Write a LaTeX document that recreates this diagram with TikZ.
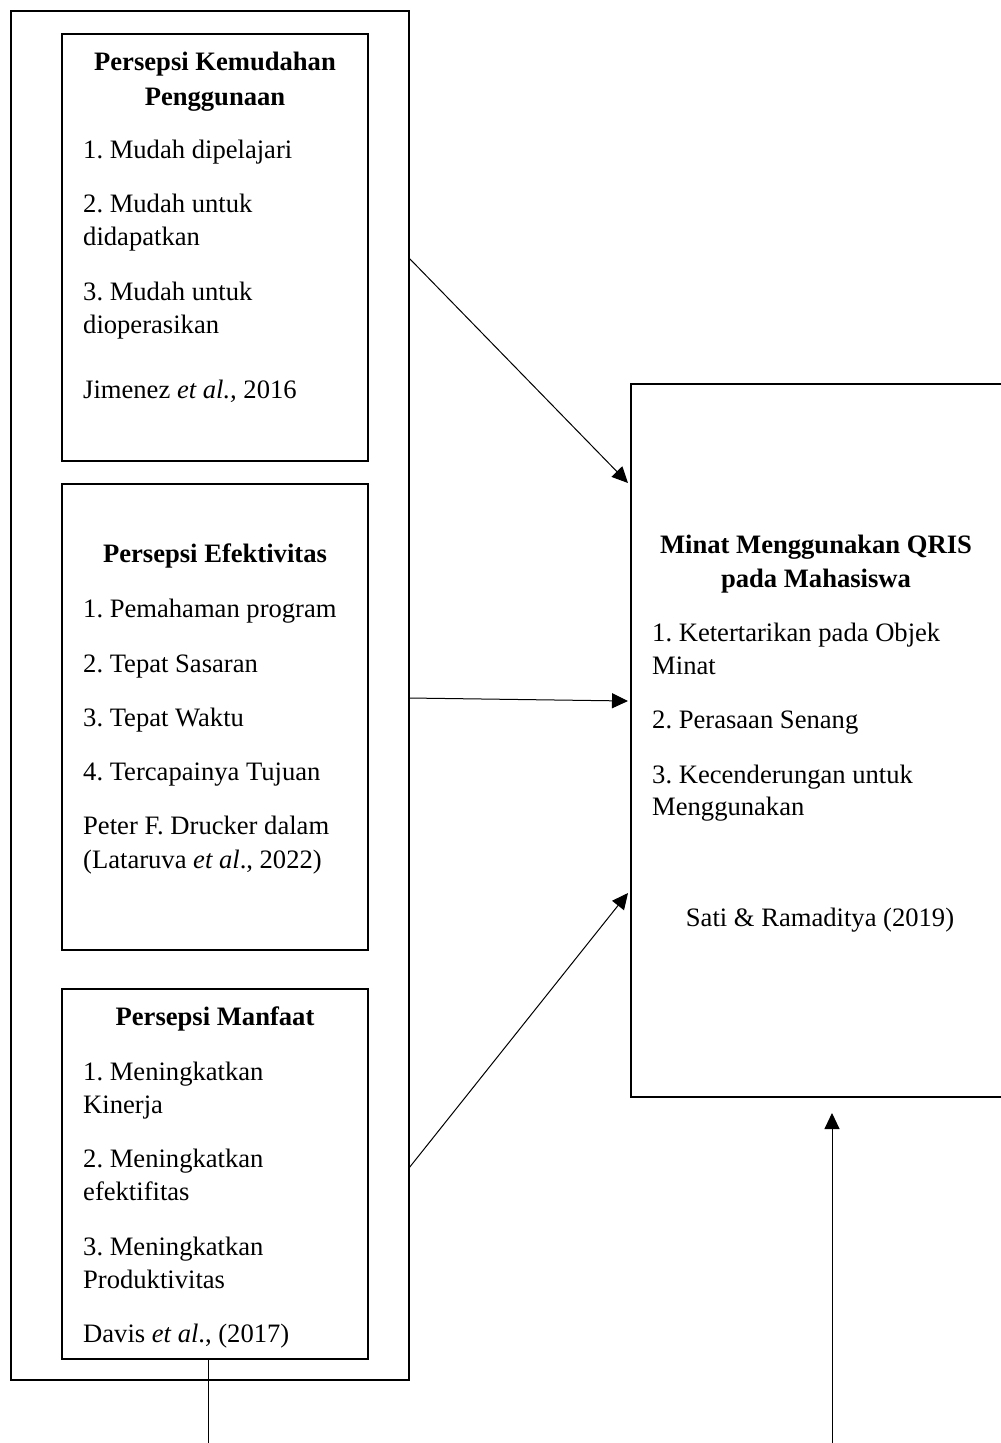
\documentclass[tikz,border=0pt]{standalone}
\usepackage{fontspec}
\setmainfont{Liberation Serif}
\usetikzlibrary{arrows.meta}
\frenchspacing
\begin{document}
\begin{tikzpicture}[x=1pt,y=-1pt,
  box/.style={draw, line width=2pt, rectangle, inner sep=0pt},
  txt/.style={anchor=base west, inner sep=0pt, font=\fontsize{26.6}{34}\selectfont},
  ctxt/.style={anchor=base, inner sep=0pt, font=\fontsize{26.6}{34}\selectfont},
  ttl/.style={anchor=base, inner sep=0pt, font=\fontsize{26.6}{34}\selectfont\bfseries},
  conn/.style={line width=1pt, -{Triangle[length=16pt,width=15pt]}},
  plain/.style={line width=1pt},
]
\useasboundingbox (0,0) rectangle (1001,1443);
\clip (0,0) rectangle (1001,1443);

% boxes
\node[box, minimum width=398pt, minimum height=1369pt] (outer) at (210,695.5) {};
\node[box, minimum width=306pt, minimum height=427pt] (b1) at (215,247.5) {};
\node[box, minimum width=306pt, minimum height=466pt] (b2) at (215,717) {};
\node[box, minimum width=306pt, minimum height=370pt] (b3) at (215,1174) {};
\node[box, minimum width=374pt, minimum height=713pt] (rb) at (818,740.5) {};

% box 1 text
\node[ttl] (b1t1) at (215,70) {Persepsi Kemudahan};
\node[ttl] (b1t2) at (215,105) {Penggunaan};
\node[txt] (b1i1) at (83,158) {1. Mudah dipelajari};
\node[txt] (b1i2) at (83,212) {2. Mudah untuk};
\node[txt] (b1i2b) at (83,245) {didapatkan};
\node[txt] (b1i3) at (83,300) {3. Mudah untuk};
\node[txt] (b1i3b) at (83,333) {dioperasikan};
\node[txt] (b1r) at (83,398) {Jimenez \textit{et al.,} 2016};

% box 2 text
\node[ttl] (b2t1) at (215,562) {Persepsi Efektivitas};
\node[txt] (b2i1) at (83,617) {1. Pemahaman program};
\node[txt] (b2i2) at (83,672) {2. Tepat Sasaran};
\node[txt] (b2i3) at (83,726) {3. Tepat Waktu};
\node[txt] (b2i4) at (83,780) {4. Tercapainya Tujuan};
\node[txt] (b2r1) at (83,834) {Peter F. Drucker dalam};
\node[txt] (b2r2) at (83,868) {(Lataruva \textit{et al}., 2022)};

% box 3 text
\node[ttl] (b3t1) at (215,1025) {Persepsi Manfaat};
\node[txt] (b3i1) at (83,1080) {1. Meningkatkan};
\node[txt] (b3i1b) at (83,1113) {Kinerja};
\node[txt] (b3i2) at (83,1167) {2. Meningkatkan};
\node[txt] (b3i2b) at (83,1200) {efektifitas};
\node[txt] (b3i3) at (83,1255) {3. Meningkatkan};
\node[txt] (b3i3b) at (83,1288) {Produktivitas};
\node[txt] (b3r) at (83,1342) {Davis \textit{et al}., (2017)};

% right box text
\node[ttl] (rbt1) at (816,553) {Minat Menggunakan QRIS};
\node[ttl] (rbt2) at (816,587) {pada Mahasiswa};
\node[txt] (rbi1) at (652,641) {1. Ketertarikan pada Objek};
\node[txt] (rbi1b) at (652,674) {Minat};
\node[txt] (rbi2) at (652,728) {2. Perasaan Senang};
\node[txt] (rbi3) at (652,783) {3. Kecenderungan untuk};
\node[txt] (rbi3b) at (652,815) {Menggunakan};
\node[ctxt] (rbr) at (820,926) {Sati \& Ramaditya (2019)};

% connector endpoints
\coordinate (s1) at (409,258);
\coordinate (t1) at (628,483);
\coordinate (s2) at (409,698);
\coordinate (t2) at (628,701);
\coordinate (s3) at (409,1168);
\coordinate (t3) at (628,893);
\coordinate (s4) at (832,1443);
\coordinate (t4) at (832,1113);
\coordinate (s5) at (208,1359);
\coordinate (t5) at (208,1443);

\draw[conn] (s1) -- (t1);
\draw[conn] (s2) -- (t2);
\draw[conn] (s3) -- (t3);
\draw[conn] (s4) -- (t4);
\draw[plain] (s5) -- (t5);
\end{tikzpicture}
\end{document}
